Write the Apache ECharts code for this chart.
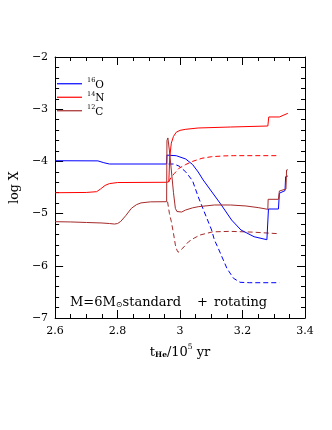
<!DOCTYPE html>
<html>
<head>
<meta charset="utf-8">
<script src="https://cdn.jsdelivr.net/npm/echarts@6/dist/echarts.min.js"></script>
<style>
html,body{margin:0;padding:0;background:#fff;}
#chart{width:332px;height:430px;}
</style>
</head>
<body>
<div id="chart"></div>
<script>
// Axis ticks
const xTicks = [2.6, 2.8, 3.0, 3.2, 3.4];
const yTicks = [-7, -6, -5, -4, -3, -2];

// Legend entries
const legendNames = ['O16', 'N14', 'C12'];
const legendLabels = {O16: ['16', 'O'], N14: ['14', 'N'], C12: ['12', 'C']};

// Rotating models (solid)  [t_He / 1e5 yr, log X]
const O16_rot = [[2.600,-3.987],[2.737,-3.990],[2.756,-4.025],[2.774,-4.050],[2.957,-4.050],[2.958,-3.880],[2.988,-3.891],[3.018,-3.954],[3.040,-4.059],[3.058,-4.203],[3.074,-4.356],[3.102,-4.586],[3.130,-4.816],[3.165,-5.123],[3.195,-5.314],[3.237,-5.443],[3.278,-5.500],[3.282,-5.490],[3.283,-4.912],[3.315,-4.912],[3.318,-4.610],[3.336,-4.560],[3.338,-4.293],[3.345,-4.280]];
const N14_rot = [[2.600,-4.600],[2.700,-4.595],[2.733,-4.580],[2.745,-4.530],[2.760,-4.460],[2.774,-4.425],[2.800,-4.405],[2.957,-4.400],[2.964,-4.390],[2.967,-3.920],[2.972,-3.650],[2.979,-3.520],[2.988,-3.440],[3.000,-3.405],[3.018,-3.385],[3.058,-3.360],[3.162,-3.341],[3.281,-3.322],[3.284,-3.149],[3.318,-3.149],[3.321,-3.125],[3.345,-3.079]];
const C12_rot = [[2.600,-5.155],[2.650,-5.160],[2.700,-5.170],[2.750,-5.180],[2.774,-5.190],[2.790,-5.200],[2.800,-5.190],[2.810,-5.150],[2.826,-5.040],[2.844,-4.900],[2.860,-4.830],[2.875,-4.795],[2.905,-4.775],[2.957,-4.772],[2.958,-3.600],[2.961,-3.550],[2.966,-3.800],[2.972,-4.165],[2.979,-4.600],[2.985,-4.900],[2.990,-4.960],[2.994,-4.983],[3.005,-4.970],[3.018,-4.931],[3.040,-4.890],[3.058,-4.868],[3.110,-4.835],[3.162,-4.835],[3.211,-4.854],[3.250,-4.885],[3.281,-4.918],[3.282,-4.726],[3.315,-4.726],[3.318,-4.567],[3.339,-4.529],[3.341,-4.165],[3.345,-4.160]];

// Standard models (dashed)
const O16_std = [[2.963,-4.050],[2.980,-4.050],[2.997,-4.090],[3.018,-4.200],[3.040,-4.370],[3.058,-4.676],[3.079,-4.989],[3.101,-5.314],[3.110,-5.506],[3.120,-5.634],[3.150,-6.048],[3.171,-6.239],[3.192,-6.316],[3.223,-6.324],[3.318,-6.324]];
const N14_std = [[2.963,-4.395],[2.972,-4.300],[2.982,-4.230],[2.997,-4.130],[3.018,-4.060],[3.040,-4.000],[3.070,-3.940],[3.101,-3.910],[3.140,-3.895],[3.171,-3.890],[3.318,-3.890]];
const C12_std = [[2.960,-4.772],[2.966,-5.000],[2.972,-5.150],[2.979,-5.380],[2.985,-5.600],[2.990,-5.700],[2.994,-5.740],[3.000,-5.720],[3.009,-5.660],[3.027,-5.540],[3.045,-5.470],[3.064,-5.410],[3.104,-5.350],[3.160,-5.340],[3.232,-5.355],[3.315,-5.385]];

const FONT = 'DejaVu Serif';
const BLUE = '#0000ff', RED = '#ff0000', BROWN = '#a52a2a';

const chart = echarts.init(document.getElementById('chart'), null, {renderer: 'canvas'});

function baseX(pos, showLabel) {
  return {
    type: 'value', position: pos, min: xTicks[0], max: xTicks[xTicks.length-1],
    interval: xTicks[1]-xTicks[0],
    axisLine: {show: true, onZero: false, lineStyle: {color: '#000', width: 1}},
    axisTick: {show: true, inside: true, length: 8, lineStyle: {color: '#000'}},
    minorTick: {show: true, splitNumber: 4, length: 4, lineStyle: {color: '#000'}},
    splitLine: {show: false},
    axisLabel: {show: showLabel, margin: 8, color: '#000', fontFamily: FONT, fontSize: 11,
      formatter: v => String(parseFloat(v.toFixed(1)))}
  };
}
function baseY(pos, showLabel) {
  return {
    type: 'value', position: pos, min: yTicks[0], max: yTicks[yTicks.length-1],
    interval: yTicks[1]-yTicks[0],
    axisLine: {show: true, onZero: false, lineStyle: {color: '#000', width: 1}},
    axisTick: {show: true, inside: true, length: 8, lineStyle: {color: '#000'}},
    minorTick: {show: true, splitNumber: 5, length: 4, lineStyle: {color: '#000'}},
    splitLine: {show: false},
    axisLabel: {show: showLabel, margin: 7, color: '#000', fontFamily: FONT, fontSize: 11,
      formatter: v => (v < 0 ? '\u2212' + Math.abs(v) : String(v))}
  };
}

const xb = baseX('bottom', true);
xb.name = '{t|t}{sub|He}{t|/10}{sup|5}{t| yr}';
xb.nameLocation = 'middle';
xb.nameGap = 25;
xb.nameTextStyle = {fontFamily: FONT, color: '#000', fontSize: 13,
  rich: {t: {fontFamily: FONT, fontSize: 13, lineHeight: 16, verticalAlign: 'bottom', color: '#000'},
         sub: {fontFamily: FONT, fontSize: 7.5, fontWeight: 'bold', lineHeight: 8, verticalAlign: 'bottom', color: '#000'},
         sup: {fontFamily: FONT, fontSize: 7.5, lineHeight: 8, verticalAlign: 'top', color: '#000'}}};
const yl = baseY('left', true);
yl.name = 'log X';
yl.nameLocation = 'middle';
yl.nameGap = 25;
yl.nameTextStyle = {fontFamily: FONT, color: '#000', fontSize: 12.5};

function ser(name, data, color, dashed) {
  return {
    name: name, type: 'line', data: data, xAxisIndex: 0, yAxisIndex: 0,
    showSymbol: false, symbol: 'none', smooth: false, clip: true,
    lineStyle: {color: color, width: 1, type: dashed ? [5, 3] : 'solid'},
    itemStyle: {color: color}, emphasis: {disabled: true}, z: dashed ? 2 : 3
  };
}

chart.setOption({
  animation: false,
  backgroundColor: '#fff',
  grid: {left: 43, right: 27, top: 57, bottom: 112, containLabel: false},
  xAxis: [xb, baseX('top', false)],
  yAxis: [yl, baseY('right', false)],
  legend: {
    data: legendNames.map(n => ({name: n, icon: 'rect'})),
    orient: 'vertical', left: 57, top: 77,
    itemWidth: 25, itemHeight: 1.2, itemGap: 0, padding: 0,
    selectedMode: false,
    formatter: n => '{sup|' + legendLabels[n][0] + '}{m|' + legendLabels[n][1] + '}',
    textStyle: {fontFamily: FONT, color: '#000', fontSize: 10.5,
      rich: {m: {fontFamily: FONT, fontSize: 10.5, lineHeight: 13.5, verticalAlign: 'bottom', color: '#000'},
             sup: {fontFamily: FONT, fontSize: 6.5, lineHeight: 8, verticalAlign: 'top', color: '#000'}}}
  },
  graphic: [{
    type: 'text', left: 70, top: 296, silent: true,
    style: {
      text: '{m|M=6M}{sub|\u2299}{m|standard}{p|+}{r|rotating}',
      fill: '#000',
      rich: {m: {fontFamily: FONT, fontSize: 13, lineHeight: 16, verticalAlign: 'bottom', fill: '#000'},
             sub: {fontFamily: FONT, fontSize: 8, lineHeight: 16, verticalAlign: 'bottom', fill: '#000'},
             p: {fontFamily: FONT, fontSize: 13, lineHeight: 16, verticalAlign: 'bottom', fill: '#000', padding: [0, 0, 0, 16]},
             r: {fontFamily: FONT, fontSize: 13, lineHeight: 16, verticalAlign: 'bottom', fill: '#000', padding: [0, 0, 0, 6]}}
    }
  }],
  series: [
    ser('O16', O16_rot, BLUE, false),
    ser('N14', N14_rot, RED, false),
    ser('C12', C12_rot, BROWN, false),
    ser('O16 std', O16_std, BLUE, true),
    ser('N14 std', N14_std, RED, true),
    ser('C12 std', C12_std, BROWN, true)
  ]
});
</script>
</body>
</html>
